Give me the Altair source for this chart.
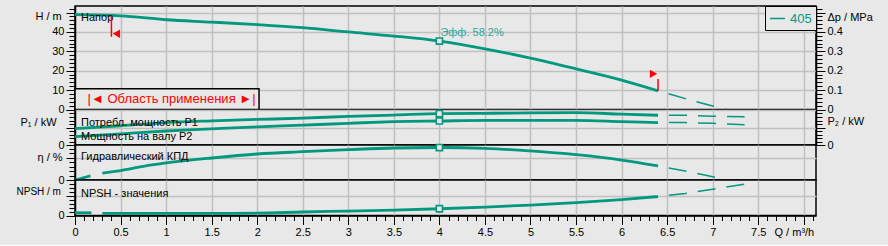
import altair as alt
import pandas as pd

TEAL = "#00997f"
TEAL_TXT = "#2aa89a"
BG = "#e8e8e8"
GRID = "#c0c0c0"
RED = "#ff0000"
FONT = "Liberation Sans"

# ---------------- data ----------------
pump_label = "405"
q_curve = [0.0, 0.5, 1.0, 1.5, 2.0, 2.5, 3.0, 3.5, 4.0, 4.5, 5.0, 5.5, 6.0, 6.4]
head_m = [48.9, 48.3, 46.3, 45.1, 43.8, 42.2, 40.0, 37.9, 35.3, 31.3, 26.5, 21.0, 15.2, 9.65]
p1_kw = [0.47, 0.55, 0.64, 0.69, 0.73, 0.765, 0.82, 0.855, 0.897, 0.906, 0.915, 0.925, 0.88, 0.85]
p2_kw = [0.24, 0.32, 0.40, 0.46, 0.52, 0.565, 0.62, 0.665, 0.686, 0.705, 0.706, 0.706, 0.67, 0.64]

q_eta = [0.0, 0.17, 0.3, 0.5, 0.75, 1.0, 1.5, 2.0, 2.5, 3.0, 3.5, 4.0, 4.5, 5.0, 5.5, 6.0, 6.4]
eta_pct = [0.0, 7.5, 12.5, 17.0, 24.5, 30.5, 39.4, 46.6, 50.7, 54.3, 57.3, 58.2, 56.8, 52.0, 45.3, 35.8, 25.1]
eta_part = [0, 0] + [1] * 15

q_npsh = [0.0, 0.18, 0.3, 1.0, 2.0, 2.5, 3.0, 3.5, 4.0, 4.5, 5.0, 5.5, 6.0, 6.4]
npsh_m = [0.28, 0.28, 0.21, 0.21, 0.24, 0.36, 0.45, 0.55, 0.69, 0.86, 1.07, 1.32, 1.63, 1.94]
npsh_part = [0, 0] + [1] * 12

# extrapolated (dashed) parts
q_ext_h = [6.4, 6.7, 7.0, 7.15]
head_ext = [9.65, 5.6, 1.8, 0.0]
q_ext_p = [6.4, 6.7, 7.0, 7.35]
p1_ext = [0.85, 0.85, 0.82, 0.81]
p2_ext = [0.64, 0.64, 0.62, 0.58]
q_ext_eta = [6.4, 6.7, 7.0, 7.14]
eta_ext = [25.1, 16.2, 5.9, 0.0]
q_ext_npsh = [6.4, 6.7, 7.0, 7.35]
npsh_ext = [1.94, 2.25, 2.69, 3.21]

# duty point
duty_q = 4.0
duty_head = 35.3
duty_p1 = 0.897
duty_p2 = 0.686
duty_eta = 58.2
duty_npsh = 0.69
duty_text = "Эфф. 58.2%"

# application range
q_min, q_max = 0.4, 6.4

# tick values / labels
x_ticks = [round(i * 0.1, 1) for i in range(82)]
x_major = [round(i * 0.5, 1) for i in range(1, 17)]
h_ticks = list(range(0, 54, 2))
p_ticks = [round(i * 0.1, 1) for i in range(11)]
eta_ticks = list(range(0, 57, 8))
npsh_ticks = [round(i * 0.4, 1) for i in range(10)]

W = 741
X_DOM = [0, 8.134]


def is_major(step):
    return f"abs(datum.value/{step} - round(datum.value/{step})) < 0.001"


def tsize(step, big=9, small=6):
    return {"condition": {"test": is_major(step), "value": big}, "value": small}


def gop(step):
    return {"condition": {"test": is_major(step) + " && datum.value > 0", "value": 1}, "value": 0}


grid_x_axis = alt.Axis(values=x_major, labels=False, ticks=False, domain=False,
                       grid=True, title=None)
bottom_x_axis = alt.Axis(values=x_ticks, format="~g",
                         labelExpr=is_major(0.5) + " && datum.value < 7.9 ? datum.label : ''",
                         tickSize=tsize(0.5, 9, 5), grid=True, gridOpacity=gop(0.5),
                         title="Q / m³/h", titleAngle=0, titleAlign="left",
                         titleBaseline="middle", titleX=699, titleY=17)


def X(axis):
    return alt.X("q:Q", scale=alt.Scale(domain=X_DOM, nice=False, zero=False), axis=axis)


def left_axis(values, step, labexpr, title, tx, ty, fs=11):
    return alt.Axis(orient="left", values=values, labelExpr=labexpr,
                    tickSize=tsize(step), grid=True, gridOpacity=gop(step),
                    title=title, titleAngle=0, titleAlign="left", titleBaseline="middle",
                    titleX=tx, titleY=ty, titleFontSize=fs)


def right_axis(values, step, labexpr, title, tx, ty):
    return alt.Axis(orient="right", values=values, labelExpr=labexpr,
                    tickSize=tsize(step), grid=False,
                    title=title, titleAngle=0, titleAlign="left", titleBaseline="middle",
                    titleX=tx, titleY=ty)


dash = dict(strokeDash=[18, 11], strokeDashOffset=18, strokeWidth=1.5, color=TEAL)
solid = dict(strokeWidth=2.8, color=TEAL, interpolate="monotone")
marker = dict(shape="square", filled=True, fill=BG, stroke=TEAL, strokeWidth=1.6, size=38, opacity=1)
label_txt = dict(align="left", baseline="middle", fontSize=11, color="black", dx=6, font=FONT)

# ---------------- panel 1 : head ----------------
hs = alt.Scale(domain=[0, 53.4], nice=False, zero=False)


def YH(axis=None, field="h"):
    return alt.Y(f"{field}:Q", scale=hs, axis=axis)


xa = grid_x_axis
df_h = pd.DataFrame({"q": q_curve, "h": head_m, "curve": pump_label})
df_hx = pd.DataFrame({"q": q_ext_h, "h": head_ext})
df_duty_h = pd.DataFrame({"q": [duty_q], "h": [duty_head], "t": [duty_text]})
df_box = pd.DataFrame({"q": [0.0], "q2": [2.02], "h": [0.0], "h2": [10.7]})
df_box_t = pd.DataFrame({"q": [1.06], "h": [5.4], "t": ["|◄ Область применения ►|"]})
df_napor = pd.DataFrame({"q": [0.0], "h": [47.1], "t": ["Напор"]})
df_flagline = pd.DataFrame({"q": [q_min, q_max], "h": [37.5, 9.65], "h2": [48.4, 15.8]})
df_flag_l = pd.DataFrame({"q": [0.455], "h": [39.1]})
df_flag_r = pd.DataFrame({"q": [6.35], "h": [18.4]})

h_left = left_axis(h_ticks, 10, is_major(10) + " && datum.value <= 40 ? datum.label : ''",
                   "H / m", -40, 10)
h_right = right_axis(h_ticks, 10,
                     is_major(10) + " && datum.value <= 40 ? format(datum.value/100, '~g') : ''",
                     "Δp / MPa", 11, 11)

box = alt.Chart(df_box).mark_rect(fill=BG, stroke="black", strokeWidth=1.5).encode(
    x=X(xa), x2="q2", y=YH(), y2="h2")
box_t = alt.Chart(df_box_t).mark_text(align="center", baseline="middle", fontSize=13,
                                      color=RED, font=FONT).encode(x=X(xa), y=YH(), text="t")
h_line = alt.Chart(df_h).mark_line(**solid).encode(
    x=X(xa), y=YH(h_left),
    color=alt.Color("curve:N", scale=alt.Scale(range=[TEAL]),
                    legend=alt.Legend(orient="top-right", offset=0, title=None,
                                      symbolType="stroke", symbolStrokeWidth=1.5,
                                      symbolSize=220, labelFontSize=13, labelColor=TEAL,
                                      labelFont=FONT, strokeColor="black", fillColor=BG,
                                      padding=4, labelOffset=4)))
h_dash = alt.Chart(df_hx).mark_line(**dash).encode(x=X(xa), y=YH())
h_mark = alt.Chart(df_duty_h).mark_point(**marker).encode(x=X(xa), y=YH(h_right))
h_txt = alt.Chart(df_duty_h).mark_text(align="left", baseline="middle", fontSize=11,
                                       color=TEAL_TXT, dx=1, dy=-8, font=FONT).encode(
    x=X(xa), y=YH(), text="t")
napor = alt.Chart(df_napor).mark_text(**label_txt).encode(x=X(xa), y=YH(), text="t")
flag_lines = alt.Chart(df_flagline).mark_rule(color=RED, strokeWidth=1.5).encode(
    x=X(xa), y=YH(), y2="h2")
flag_l = alt.Chart(df_flag_l).mark_point(shape="triangle-left", filled=True, color=RED,
                                         size=70, opacity=1).encode(x=X(xa), y=YH())
flag_r = alt.Chart(df_flag_r).mark_point(shape="triangle-right", filled=True, color=RED,
                                         size=70, opacity=1).encode(x=X(xa), y=YH())

c1 = alt.layer(h_line, box, box_t, h_dash, h_mark, h_txt, napor, flag_lines, flag_l, flag_r
               ).resolve_axis(y="independent").properties(width=W, height=103.5)

# ---------------- panel 2 : power ----------------
ps = alt.Scale(domain=[0, 1.0], nice=False, zero=False)


def YP(axis=None):
    return alt.Y("p:Q", scale=ps, axis=axis)


df_p = pd.DataFrame({"q": q_curve * 2, "p": p1_kw + p2_kw,
                     "s": ["P1"] * len(q_curve) + ["P2"] * len(q_curve)})
df_px = pd.DataFrame({"q": q_ext_p * 2, "p": p1_ext + p2_ext,
                      "s": ["P1"] * len(q_ext_p) + ["P2"] * len(q_ext_p)})
df_pm = pd.DataFrame({"q": [duty_q, duty_q], "p": [duty_p1, duty_p2]})
df_pt = pd.DataFrame({"q": [0.0, 0.0], "p": [0.62, 0.22],
                      "t": ["Потребл. мощность P1", "Мощность на валу P2"]})

p_left = left_axis(p_ticks, 0.5, "datum.value == 0 ? '0' : ''", "P₁ / kW", -55, 12)
p_right = right_axis(p_ticks, 0.5, "datum.value == 0 ? '0' : ''", "P₂ / kW", 11, 11)

c2 = alt.layer(
    alt.Chart(df_p).mark_line(**solid).encode(x=X(xa), y=YP(p_left), detail="s:N"),
    alt.Chart(df_px).mark_line(**dash).encode(x=X(xa), y=YP(), detail="s:N"),
    alt.Chart(df_pm).mark_point(**marker).encode(x=X(xa), y=YP(p_right)),
    alt.Chart(df_pt).mark_text(**label_txt).encode(x=X(xa), y=YP(), text="t"),
).resolve_axis(y="independent").properties(width=W, height=35)

# ---------------- panel 3 : efficiency ----------------
es = alt.Scale(domain=[0, 62.7], nice=False, zero=False)


def YE(axis=None):
    return alt.Y("e:Q", scale=es, axis=axis)


df_e = pd.DataFrame({"q": q_eta, "e": eta_pct, "part": eta_part})
df_ex = pd.DataFrame({"q": q_ext_eta, "e": eta_ext})
df_em = pd.DataFrame({"q": [duty_q], "e": [duty_eta]})
df_et = pd.DataFrame({"q": [0.0], "e": [40.7], "t": ["Гидравлический КПД"]})
e_left = left_axis(eta_ticks, 40, "datum.value == 0 ? '0' : ''", "η / %", -38, 12.5)

c3 = alt.layer(
    alt.Chart(df_e).mark_line(**solid).encode(x=X(xa), y=YE(e_left), detail="part:N"),
    alt.Chart(df_ex).mark_line(**dash).encode(x=X(xa), y=YE()),
    alt.Chart(df_em).mark_point(**marker).encode(x=X(xa), y=YE()),
    alt.Chart(df_et).mark_text(**label_txt).encode(x=X(xa), y=YE(), text="t"),
).resolve_axis(y="independent").properties(width=W, height=35)

# ---------------- panel 4 : NPSH ----------------
ns = alt.Scale(domain=[0, 3.63], nice=False, zero=False)


def YN(axis=None):
    return alt.Y("n:Q", scale=ns, axis=axis)


xb = bottom_x_axis
df_n = pd.DataFrame({"q": q_npsh, "n": npsh_m, "part": npsh_part})
df_nx = pd.DataFrame({"q": q_ext_npsh, "n": npsh_ext})
df_nm = pd.DataFrame({"q": [duty_q], "n": [duty_npsh]})
df_nt = pd.DataFrame({"q": [0.0], "n": [2.2], "t": ["NPSH  - значения"]})
n_left = left_axis(npsh_ticks, 2, "datum.value == 0 ? '0' : ''", "NPSH / m", -59, 11.5, fs=10)

c4 = alt.layer(
    alt.Chart(df_n).mark_line(**solid).encode(x=X(xb), y=YN(n_left), detail="part:N"),
    alt.Chart(df_nx).mark_line(**dash).encode(x=X(xb), y=YN()),
    alt.Chart(df_nm).mark_point(**marker).encode(x=X(xb), y=YN()),
    alt.Chart(df_nt).mark_text(**label_txt).encode(x=X(xb), y=YN(), text="t"),
).resolve_axis(y="independent").properties(width=W, height=35.5)

chart = alt.vconcat(c1, c2, c3, c4, spacing=0, bounds="flush").resolve_legend(
    color="independent"
).properties(
    background=BG, padding={"left": 15, "top": 1, "right": 14, "bottom": 6}
).configure(font=FONT).configure_view(
    stroke="black", strokeWidth=1.5, fill=BG
).configure_axis(
    domainColor="black", domainWidth=1.5, tickColor="black", tickWidth=1,
    labelColor="black", labelFontSize=11, labelFont=FONT, titleFont=FONT,
    titleFontSize=11, titleFontWeight="normal", titleColor="black",
    gridColor=GRID, gridWidth=1.5, labelPadding=2, labelFlush=False, labelOverlap=False
)

chart.save("out.html", embed_options={"renderer": "svg", "actions": False})
